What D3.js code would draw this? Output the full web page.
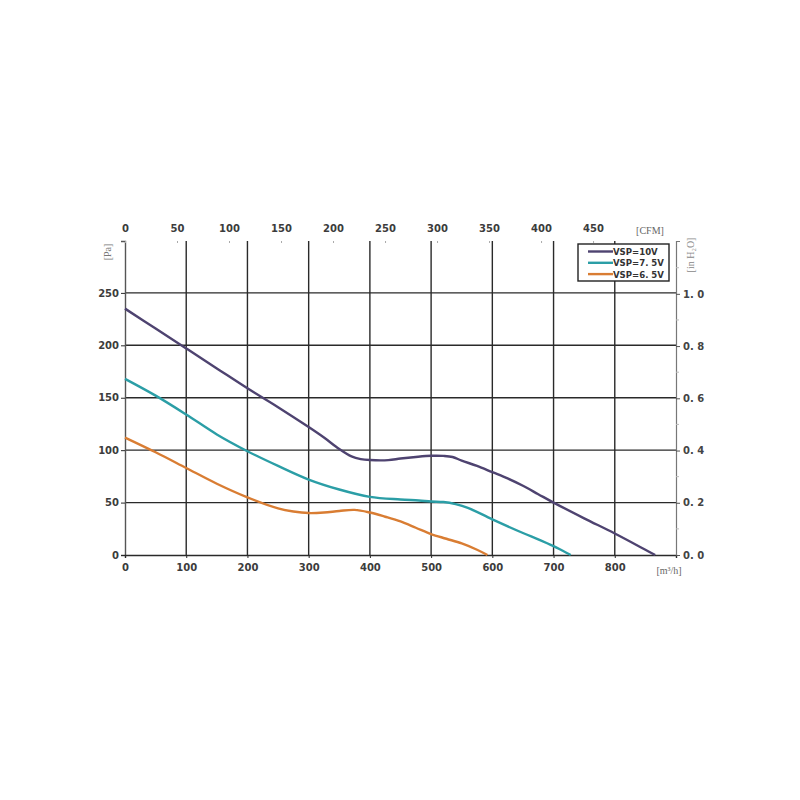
<!DOCTYPE html>
<html><head><meta charset="utf-8">
<script src="https://cdn.jsdelivr.net/npm/d3@7"></script>
<style>body{margin:0;background:#fff;}svg{display:block;}</style>
</head><body>
<svg id="c" width="800" height="800"></svg>
<script>
const seriesNames = ["VSP=10V", "VSP=7. 5V", "VSP=6. 5V"];
const seriesColors = ["#4e4370", "#2b9ea6", "#d97d33"];
const flow10 = [0, 50, 100, 150, 200, 250, 300, 325, 350, 370, 385, 400, 430, 450, 475, 500, 520, 535, 550, 575, 600, 625, 650, 675, 700, 750, 800, 850, 866];
const pa10   = [235, 216, 197, 178, 159, 141, 122, 112, 101, 94, 91.5, 90.6, 90.5, 92, 93.5, 94.6, 94.5, 93.5, 90, 85, 79, 73, 66, 58, 50, 35, 20.5, 5, 0];
const flow75 = [0, 50, 100, 150, 200, 250, 300, 350, 400, 450, 480, 500, 520, 540, 560, 600, 650, 675, 700, 715, 728];
const pa75   = [168, 152, 134, 115, 99, 85, 72, 62.5, 55.5, 53, 52, 51, 50.5, 48.5, 45, 34, 21, 15, 8.5, 4, 0];
const flow65 = [0, 50, 100, 150, 200, 250, 275, 300, 325, 350, 375, 400, 425, 450, 475, 500, 525, 550, 575, 592];
const pa65   = [112, 98, 83, 68, 55, 44.5, 41.5, 40, 40.5, 42, 43, 40.5, 36.5, 32, 26, 20, 15.5, 11, 5, 0];
const xTicks = [0, 100, 200, 300, 400, 500, 600, 700, 800];
const yTicks = [0, 50, 100, 150, 200, 250];
const cfmTicks = [0, 50, 100, 150, 200, 250, 300, 350, 400, 450];
const inTicks = [0, 0.2, 0.4, 0.6, 0.8, 1.0];
const inMinor = [0.1, 0.3, 0.5, 0.7, 0.9, 1.1];

const svg = d3.select("#c");
const L = 125, R = 676, T = 241, B = 555;
const x = d3.scaleLinear().domain([0, 900]).range([L, R]);
const y = d3.scaleLinear().domain([0, 299.5]).range([B, T]);
const xc = d3.scaleLinear().domain([0, 900 * 0.5886]).range([L, R]);
const yi = d3.scaleLinear().domain([0, 299.5 / 249.1]).range([B, T]);
const gridC = "#2a2a2a", txtC = "#3c3c3c", font = "DejaVu Sans";

// grid
svg.append("g").selectAll("line").data(xTicks.slice(1)).join("line")
  .attr("x1", d => x(d)).attr("x2", d => x(d)).attr("y1", T).attr("y2", B)
  .attr("stroke", gridC).attr("stroke-width", 1.4);
svg.append("g").selectAll("line").data(yTicks.slice(1)).join("line")
  .attr("x1", L).attr("x2", R).attr("y1", d => y(d)).attr("y2", d => y(d))
  .attr("stroke", gridC).attr("stroke-width", 1.4);

// left axis
const gl = svg.append("g").attr("transform", `translate(${L},0)`)
  .call(d3.axisLeft(y).tickValues(yTicks).tickSize(4).tickPadding(2));
// bottom axis
const gb = svg.append("g").attr("transform", `translate(0,${B})`)
  .call(d3.axisBottom(x).tickValues(xTicks).tickSize(3).tickPadding(6));
// right axis
const gr = svg.append("g").attr("transform", `translate(${R},0)`)
  .call(d3.axisRight(yi).tickValues(inTicks).tickSize(4).tickPadding(3)
    .tickFormat(d => d3.format(".1f")(d).replace(".", ". ")));
// top axis
const gt = svg.append("g").attr("transform", `translate(0,${T})`)
  .call(d3.axisTop(xc).tickValues(cfmTicks).tickSize(-2).tickPadding(9));
[gl, gb, gr, gt].forEach(g => {
  g.select(".domain").attr("stroke", gridC).attr("stroke-width", 1.4);
  g.selectAll(".tick line").attr("stroke", gridC);
  g.selectAll("text").attr("font-family", font).attr("font-size", 10)
    .attr("fill", txtC).attr("font-weight", "bold");
});
gl.select(".domain").attr("stroke", "#555");
gt.select(".domain").remove();
gt.selectAll(".tick line").attr("stroke", "#aaa");
gr.select(".domain").attr("stroke", "#777").attr("stroke-width", 1.2);
gr.selectAll(".tick line").attr("stroke", "#555");
gr.selectAll("text").attr("fill", "#444");
svg.append("g").selectAll("line").data(inMinor).join("line")
  .attr("x1", R).attr("x2", R + 3).attr("y1", d => yi(d)).attr("y2", d => yi(d))
  .attr("stroke", "#bbb");

// unit labels
svg.append("text").attr("transform", `translate(111,252) rotate(-90)`)
  .attr("text-anchor", "middle").attr("font-family", "Liberation Serif").attr("font-size", 10)
  .attr("fill", "#777").text("[Pa]");
svg.append("text").attr("transform", `translate(694,255) rotate(-90)`)
  .attr("text-anchor", "middle").attr("font-family", "Liberation Serif").attr("font-size", 10)
  .attr("fill", "#888").text("[in H\u2082O]");
svg.append("text").attr("x", 650).attr("y", 234).attr("text-anchor", "middle")
  .attr("font-family", "Liberation Serif").attr("font-size", 10).attr("fill", "#666").text("[CFM]");
svg.append("text").attr("x", 669).attr("y", 574).attr("text-anchor", "middle")
  .attr("font-family", "Liberation Serif").attr("font-size", 10).attr("fill", "#666").text("[m\u00b3/h]");

// curves
const data = [[flow10, pa10], [flow75, pa75], [flow65, pa65]];
const line = d3.line().x(d => x(d[0])).y(d => y(d[1])).curve(d3.curveCatmullRom.alpha(0.5));
data.forEach((s, i) => {
  const pts = s[0].map((f, k) => [f, s[1][k]]);
  svg.append("path").datum(pts).attr("d", line).attr("fill", "none")
    .attr("stroke", seriesColors[i]).attr("stroke-width", 2.4).attr("stroke-linejoin", "round");
});

// legend
const lg = svg.append("g");
lg.append("rect").attr("x", 578).attr("y", 244).attr("width", 91).attr("height", 37)
  .attr("fill", "#fff").attr("stroke", "#222").attr("stroke-width", 1.4);
seriesNames.forEach((n, i) => {
  const yy = 251.5 + i * 11.3;
  lg.append("line").attr("x1", 588).attr("x2", 613).attr("y1", yy).attr("y2", yy)
    .attr("stroke", seriesColors[i]).attr("stroke-width", 2.4);
  lg.append("text").attr("x", 613).attr("y", yy + 3.5).attr("font-family", "Liberation Sans Narrow, DejaVu Sans Condensed")
    .attr("font-size", 9.5).attr("font-weight", "bold").attr("fill", "#333").text(n);
});
</script>
</body></html>
